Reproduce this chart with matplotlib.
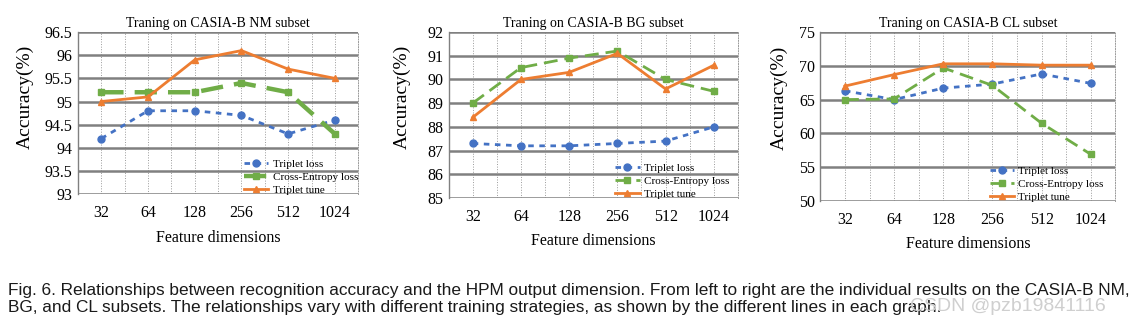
import matplotlib.pyplot as plt
from matplotlib.ticker import MultipleLocator

# feature dimensions on the x axis
dims = ["32", "64", "128", "256", "512", "1024"]

# NM subset
nm_triplet = [94.2, 94.8, 94.8, 94.7, 94.3, 94.6]
nm_ce = [95.2, 95.2, 95.2, 95.4, 95.2, 94.3]
nm_tune = [95.0, 95.1, 95.9, 96.1, 95.7, 95.5]

# BG subset
bg_triplet = [87.3, 87.2, 87.2, 87.3, 87.4, 88.0]
bg_ce = [89.0, 90.5, 90.9, 91.2, 90.0, 89.5]
bg_tune = [88.4, 90.0, 90.3, 91.1, 89.6, 90.6]

# CL subset
cl_triplet = [66.3, 65.0, 66.7, 67.3, 68.8, 67.4]
cl_ce = [65.0, 65.1, 69.7, 67.1, 61.5, 56.9]
cl_tune = [67.0, 68.7, 70.3, 70.3, 70.1, 70.1]

titles = ["Traning on CASIA-B NM subset", "Traning on CASIA-B BG subset",
          "Traning on CASIA-B CL subset"]
ylims = [(93, 96.5, 0.5), (85, 92, 1), (50, 75, 5)]

BLUE = "#4472C4"
GREEN = "#70AD47"
ORANGE = "#ED7D31"

plt.rcParams["font.family"] = ["Liberation Serif", "DejaVu Serif"]

fig = plt.figure(figsize=(11.3, 3.24), dpi=100)
positions = [
    [0.069, 0.401, 0.248, 0.500],
    [0.397, 0.389, 0.256, 0.512],
    [0.726, 0.380, 0.261, 0.521],
]
ylabel_xy = [(-0.157, 0.60), (-0.132, 0.61), (-0.112, 0.61)]
legend_x = [1.02, 0.99, 0.98]
data = [
    (nm_triplet, nm_ce, nm_tune),
    (bg_triplet, bg_ce, bg_tune),
    (cl_triplet, cl_ce, cl_tune),
]
ce_lw = [3.2, 2.0, 2.0]

x = list(range(len(dims)))
for i, pos in enumerate(positions):
    ax = fig.add_axes(pos)
    trip, ce, tune = data[i]
    ax.plot(x, trip, color=BLUE, ls=(0, (2, 2)), lw=2, marker="o", ms=5,
            label="Triplet loss", zorder=3)
    ax.plot(x, ce, color=GREEN, ls=(0, (5, 2.5)), lw=ce_lw[i], marker="s", ms=5,
            label="Cross-Entropy loss", zorder=3)
    ax.plot(x, tune, color=ORANGE, ls="-", lw=2, marker="^", ms=5,
            label="Triplet tune", zorder=4)

    lo, hi, step = ylims[i]
    ax.set_ylim(lo, hi)
    ax.yaxis.set_major_locator(MultipleLocator(step))
    ax.set_yticklabels([f"{v:g}" for v in ax.get_yticks()])
    ax.set_xlim(-0.5, len(dims) - 0.5)
    ax.set_xticks(x)
    ax.set_xticklabels(dims)
    ax.xaxis.remove_overlapping_locs = False
    ax.set_xticks([v * 0.5 - 0.5 for v in range(2 * len(dims) + 1)], minor=True)
    ax.grid(axis="y", which="major", color="#808080", lw=1.8, ls="-")
    ax.grid(axis="x", which="minor", color="#9a9a9a", lw=0.7, ls=":")
    ax.set_axisbelow(True)
    for s in ax.spines.values():
        s.set_visible(False)
    ax.spines["left"].set_visible(True)
    ax.spines["left"].set_color("#808080")
    ax.spines["left"].set_linewidth(1.0)
    ax.spines["right"].set_visible(True)
    ax.spines["right"].set_color("#9a9a9a")
    ax.spines["right"].set_linewidth(0.7)
    ax.spines["right"].set_linestyle(":")
    ax.tick_params(which="both", length=0, labelsize=11.5, pad=8)
    ax.tick_params(axis="y", pad=4)
    ax.set_title(titles[i], fontsize=10, pad=4)
    ax.set_ylabel("Accuracy(%)", fontsize=14)
    ax.yaxis.set_label_coords(*ylabel_xy[i])
    ax.set_xlabel("Feature dimensions", fontsize=11.5, labelpad=6)
    ax.legend(loc="lower right", frameon=False, fontsize=8, handlelength=2.2,
              borderaxespad=0.1, labelspacing=0.3, handletextpad=0.4,
              bbox_to_anchor=(legend_x[i], -0.04))

caption = ("Fig. 6. Relationships between recognition accuracy and the HPM output dimension. "
           "From left to right are the individual results on the CASIA-B NM,\n"
           "BG, and CL subsets. The relationships vary with different training strategies, "
           "as shown by the different lines in each graph.")
fig.text(0.007, 0.028, caption, fontsize=12.4, color="#1a1a1a",
         family=["Liberation Sans", "DejaVu Sans"],
         va="bottom", ha="left", linespacing=1.15)
fig.text(0.805, 0.028, "CSDN @pzb19841116", fontsize=14, color="#cfcfcf",
         family=["Liberation Sans", "DejaVu Sans"], va="bottom", ha="left")

fig.savefig("out.png", dpi=100)
